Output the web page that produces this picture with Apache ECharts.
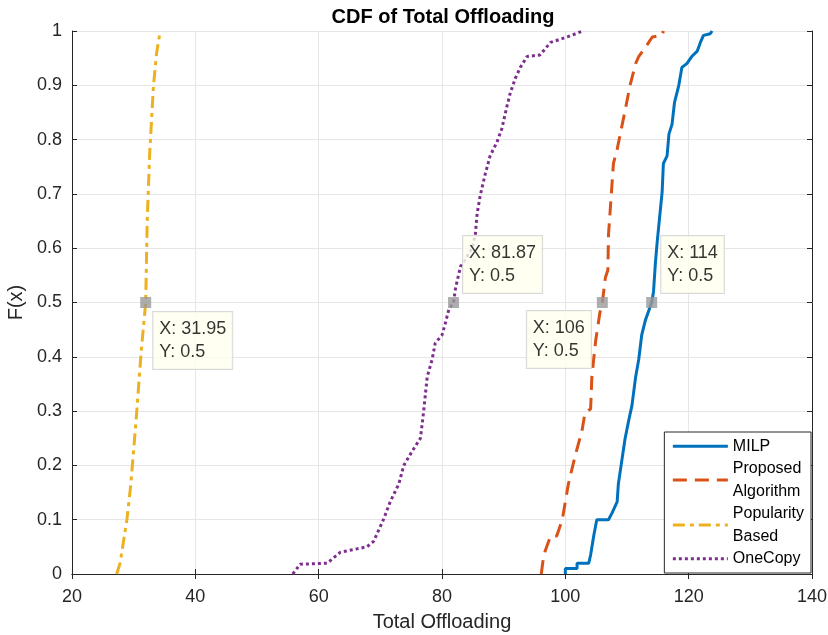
<!DOCTYPE html>
<html>
<head>
<meta charset="utf-8">
<script src="https://cdn.jsdelivr.net/npm/echarts@6.0.0/dist/echarts.min.js"></script>
<style>
  html, body { margin: 0; padding: 0; background: #fff; }
  #chart { width: 828px; height: 635px; }
</style>
</head>
<body>
<div id="chart"></div>
<script>
// values
const milpX = [100, 100, 101.9, 101.9, 103.8, 104.1, 104.6, 105.1, 107.0, 107.6, 108.4, 108.6, 109.2, 109.7, 110.3, 110.8, 111.4, 111.9, 112.4, 113.0, 113.5, 114, 114.3, 114.6, 114.9, 115.3, 115.7, 115.9, 116.5, 116.8, 117.3, 117.7, 118.4, 118.9, 119.7, 120.5, 121.4, 121.9, 122.4, 123.5, 123.8]
const milpY = [0, 0.01, 0.01, 0.02, 0.02, 0.035, 0.07, 0.1, 0.1, 0.113, 0.133, 0.166, 0.212, 0.25, 0.284, 0.31, 0.363, 0.395, 0.441, 0.468, 0.484, 0.5, 0.52, 0.572, 0.612, 0.658, 0.704, 0.756, 0.77, 0.81, 0.828, 0.868, 0.9, 0.933, 0.94, 0.953, 0.963, 0.979, 0.992, 0.995, 1]

const propX = [96.1, 96.5, 97.6, 98.6, 99.5, 100.5, 101.6, 102.7, 103.2, 104.1, 104.3, 104.9, 105.6, 106, 106.5, 106.9, 107.0, 107.4, 107.8, 108.4, 108.9, 109.7, 110.5, 111.4, 111.9, 113.0, 114.1, 115.7, 115.9]
const propY = [0, 0.035, 0.07, 0.07, 0.1, 0.166, 0.218, 0.264, 0.297, 0.304, 0.363, 0.428, 0.481, 0.5, 0.546, 0.56, 0.625, 0.69, 0.756, 0.782, 0.81, 0.854, 0.9, 0.94, 0.953, 0.97, 0.989, 0.992, 1]

const popX = [27.25, 27.8, 28.9, 29.5, 29.95, 30.4, 31.2, 31.95, 32.2, 32.6, 33.2, 33.7, 34.3]
const popY = [0, 0.02, 0.1, 0.161, 0.222, 0.284, 0.407, 0.5, 0.652, 0.775, 0.897, 0.958, 1]

const oneX = [55.8, 57.0, 61.4, 63.5, 67.8, 68.9, 70.5, 71.6, 73.0, 73.8, 75.1, 76.5, 77.0, 77.6, 78.4, 78.9, 80.0, 80.5, 81.1, 81.87, 82.2, 83.0, 84.9, 85.4, 85.7, 86.2, 87.0, 87.8, 88.9, 89.7, 90.5, 91.1, 91.9, 92.7, 93.8, 95.9, 97.6, 100.3, 102.8]
const oneY = [0, 0.018, 0.02, 0.04, 0.05, 0.06, 0.1, 0.133, 0.166, 0.2, 0.225, 0.25, 0.297, 0.363, 0.395, 0.425, 0.44, 0.46, 0.487, 0.5, 0.527, 0.566, 0.6, 0.625, 0.664, 0.697, 0.736, 0.77, 0.795, 0.82, 0.86, 0.887, 0.913, 0.933, 0.953, 0.956, 0.979, 0.989, 1]

const tipX = [31.95, 81.87, 106, 114]
const tipY = [0.5, 0.5, 0.5, 0.5]

const seriesNames = ['MILP', 'Proposed Algorithm', 'Popularity Based', 'OneCopy']
const legendText = { 'MILP': 'MILP', 'Proposed Algorithm': 'Proposed\nAlgorithm', 'Popularity Based': 'Popularity\nBased', 'OneCopy': 'OneCopy' }

const font = '"Liberation Sans", Arial, Helvetica, sans-serif'
const zip = (xs, ys) => xs.map((x, i) => [x, ys[i]])

// where each data tip box sits, relative to its marker
const tipLabelPos = [[13, 15], [15, -61], [-70, 14], [15, -61]]

const chart = echarts.init(document.getElementById('chart'))

const axisLine = { show: true, lineStyle: { color: '#262626', width: 1 } }
const tick = { show: true, inside: true, length: 5, lineStyle: { color: '#262626' } }

function lineSeries(name, xs, ys, color, type) {
  return {
    name,
    type: 'line',
    data: zip(xs, ys),
    symbol: 'none',
    lineStyle: { color, width: 3, type },
    itemStyle: { color },
    z: 3,
  }
}

const option = {
  animation: false,
  textStyle: { fontFamily: font },
  title: {
    text: 'CDF of Total Offloading',
    left: 438,
    top: 2,
    textAlign: 'center',
    textStyle: { fontSize: 20, fontWeight: 'bold', color: '#000', fontFamily: font },
  },
  grid: { left: 72, right: 16, top: 31, bottom: 61, outerBoundsMode: 'none' },
  legend: {
    data: seriesNames,
    orient: 'vertical',
    right: 17,
    bottom: 62,
    backgroundColor: '#fff',
    borderColor: '#262626',
    borderWidth: 1,
    borderRadius: 0,
    padding: [3, 7, 3, 7],
    itemGap: 0,
    itemWidth: 55,
    itemHeight: 14,
    itemStyle: { opacity: 0 },
    lineStyle: { width: 3 },
    formatter: name => legendText[name],
    textStyle: { fontSize: 16, color: '#000', lineHeight: 22.5, fontFamily: font },
  },
  xAxis: [
    {
      type: 'value', min: 20, max: 140, interval: 20,
      name: 'Total Offloading', nameLocation: 'middle', nameGap: 38,
      nameTextStyle: { fontSize: 20, color: '#262626' },
      axisLine, axisTick: tick,
      axisLabel: { fontSize: 18, color: '#262626', margin: 14 },
      splitLine: { show: true, lineStyle: { color: '#e6e6e6', width: 1 } },
    },
    {
      type: 'value', position: 'top', min: 20, max: 140, interval: 20,
      axisLine, axisTick: tick, axisLabel: { show: false }, splitLine: { show: false },
    },
  ],
  yAxis: [
    {
      type: 'value', min: 0, max: 1, interval: 0.1,
      name: 'F(x)', nameLocation: 'middle', nameGap: 38,
      nameTextStyle: { fontSize: 20, color: '#262626' },
      axisLine, axisTick: tick,
      axisLabel: { fontSize: 18, color: '#262626', margin: 10 },
      splitLine: { show: true, lineStyle: { color: '#e6e6e6', width: 1 } },
    },
    {
      type: 'value', position: 'right', min: 0, max: 1, interval: 0.1,
      axisLine, axisTick: tick, axisLabel: { show: false }, splitLine: { show: false },
    },
  ],
  series: [
    lineSeries('MILP', milpX, milpY, '#0072BD', 'solid'),
    lineSeries('Proposed Algorithm', propX, propY, '#D95319', [14, 8]),
    lineSeries('Popularity Based', popX, popY, '#EDB120', [12, 5, 4, 5]),
    lineSeries('OneCopy', oneX, oneY, '#7E2F8E', [3, 3]),
    {
      type: 'scatter',
      symbol: 'rect',
      symbolSize: 11,
      itemStyle: { color: '#9a9a9a' },
      z: 5,
      data: tipX.map((x, i) => ({
        value: [x, tipY[i]],
        label: { position: tipLabelPos[i] },
      })),
      label: {
        show: true,
        formatter: p => `X: ${p.value[0]}\nY: ${p.value[1]}`,
        fontSize: 18,
        lineHeight: 23,
        color: '#000',
        fontFamily: font,
        backgroundColor: '#ffffef',
        borderColor: '#cfcfcf',
        borderWidth: 1,
        padding: [6, 6, 5, 6],
      },
    },
  ],
}

chart.setOption(option)
</script>
</body>
</html>
